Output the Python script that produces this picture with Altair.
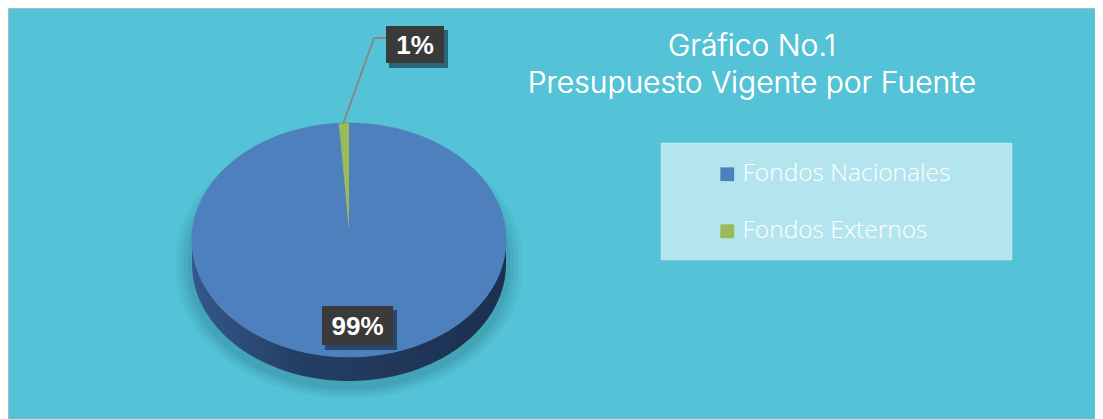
import altair as alt
import pandas as pd

# ---- data ----
categories = ["Fondos Nacionales", "Fondos Externos"]
values = [99, 1]
slice_colors = ["#4E80BE", "#9BBB59"]
title_lines = ["Gráfico No.1", "Presupuesto Vigente por Fuente"]

# ---- layout / style ----
W, H = 1087, 411
CX, CY, RX, RY, DEPTH = 341, 232, 157, 117, 24
APEX_DY = -13
N = 180
BG = "#54C3D7"
FONT = "Open Sans"
TITLE_FONT = "Inter"

df = pd.DataFrame({"category": categories, "value": values, "order": list(range(len(categories)))})

xs = alt.Scale(domain=[0, W], nice=False, zero=False)
ys = alt.Scale(domain=[0, H], nice=False, zero=False, reverse=True)


def ellipse_band(cx, cy, rx, ry, depth, full=False):
    src = alt.sequence(0, 181, 1, as_="i")
    a = "(datum.i / 180) * PI"
    return alt.Chart(src).transform_calculate(
        px=f"{cx} + {rx} * cos({a})",
        ytop=(f"{cy} - {ry} * sin({a})" if full else f"{cy} + {ry} * sin({a})"),
        ybot=f"{cy} + {ry} * sin({a}) + {depth}",
    )


# soft shadow under the pie
shadows = []
for i, op in enumerate([0.05, 0.05, 0.06, 0.07]):
    g = 4 * (4 - i)
    shadows.append(
        ellipse_band(CX, CY + DEPTH / 2 + 6, RX + g, RY + g * 0.7, DEPTH / 2, full=True)
        .mark_area(color="#0B3A4A", opacity=op)
        .encode(x=alt.X("px:Q", scale=xs, axis=None), y=alt.Y("ytop:Q", scale=ys, axis=None), y2="ybot:Q")
    )

# side of the pie
side = ellipse_band(CX, CY, RX, RY, DEPTH).mark_area(
    color=alt.Gradient(
        gradient="linear",
        stops=[
            alt.GradientStop(color="#33588A", offset=0),
            alt.GradientStop(color="#243E63", offset=0.35),
            alt.GradientStop(color="#1C3050", offset=1),
        ],
        x1=0, x2=1, y1=0, y2=0,
    )
).encode(x=alt.X("px:Q", scale=xs, axis=None), y=alt.Y("ytop:Q", scale=ys, axis=None), y2="ybot:Q")

# top of the pie: one polygon per slice, built from the values
slices = (
    alt.Chart(df)
    .transform_joinaggregate(total="sum(value)")
    .transform_window(cum="sum(value)", sort=[alt.SortField("order")], frame=[None, 0])
    .transform_calculate(t1="datum.cum / datum.total", t0="(datum.cum - datum.value) / datum.total")
    .transform_calculate(k=f"sequence(0, {N + 2})")
    .transform_flatten(["k"])
    .transform_calculate(frac=f"datum.t0 + (datum.t1 - datum.t0) * (datum.k - 1) / {N}")
    .transform_calculate(
        px=f"datum.k == 0 ? {CX} : {CX} + {RX} * sin(2 * PI * datum.frac)",
        py=f"datum.k == 0 ? {CY + APEX_DY} : {CY} - {RY} * cos(2 * PI * datum.frac)",
    )
    .mark_line(strokeWidth=0.6, interpolate="linear")
    .encode(
        x=alt.X("px:Q", scale=xs, axis=None),
        y=alt.Y("py:Q", scale=ys, axis=None),
        fill=alt.Fill(
            "category:N",
            scale=alt.Scale(domain=categories, range=slice_colors),
            sort=categories,
            legend=alt.Legend(
                title=None,
                orient="none",
                legendX=707,
                legendY=154,
                symbolType="square",
                symbolSize=190,
                symbolStrokeWidth=0,
                labelFont=FONT,
                labelFontSize=24.5,
                labelFontWeight=300,
                labelColor="white",
                labelOffset=3,
                labelLimit=0,
                rowPadding=32,
                padding=0,
            ),
        ),
        stroke=alt.Stroke("category:N", scale=alt.Scale(domain=categories, range=slice_colors), legend=None),
        order=alt.Order("k:Q"),
    )
)

# legend background box
legend_box = alt.Chart(df).mark_rect(fill="white", fillOpacity=0.34, stroke="white", strokeOpacity=0.15).encode(
    x=alt.value(653), x2=alt.value(1004), y=alt.value(135), y2=alt.value(252)
)

# two-line title as a single text
title = alt.Chart(df).mark_text(
    text=title_lines, font=TITLE_FONT, fontSize=30, fontWeight=300, color="white",
    align="center", baseline="alphabetic", lineHeight=37,
).encode(x=alt.value(744), y=alt.value(48))

# leader line for the small slice
lead1 = alt.Chart(df).mark_rule(color="#8A8585", strokeWidth=1.5).encode(
    x=alt.value(378), x2=alt.value(366), y=alt.value(30), y2=alt.value(30)
)
lead2 = alt.Chart(df).mark_rule(color="#8A8585", strokeWidth=1.5).encode(
    x=alt.value(366), x2=alt.value(335), y=alt.value(30), y2=alt.value(116)
)

# chart border (top and left edges)
border_top = alt.Chart(df).mark_rule(color="#BDBDBD", strokeWidth=1).encode(
    x=alt.value(0), x2=alt.value(W), y=alt.value(0), y2=alt.value(0)
)
border_left = alt.Chart(df).mark_rule(color="#BDBDBD", strokeWidth=1).encode(
    x=alt.value(0), x2=alt.value(0), y=alt.value(0), y2=alt.value(H)
)


def label_layers(cat, x0, x1, y0, y1):
    shadow = alt.Chart(df).mark_rect(fill="#0A2030", opacity=0.35).encode(
        x=alt.value(x0 + 3), x2=alt.value(x1 + 4), y=alt.value(y0 + 4), y2=alt.value(y1 + 5)
    )
    box = alt.Chart(df).mark_rect(fill="#3A3A3A").encode(
        x=alt.value(x0), x2=alt.value(x1), y=alt.value(y0), y2=alt.value(y1)
    )
    txt = (
        alt.Chart(df)
        .transform_filter(alt.datum.category == cat)
        .transform_calculate(lbl="format(datum.value, 'd') + '%'")
        .mark_text(font="Liberation Sans", fontSize=26, fontWeight="bold", color="white", align="center", baseline="middle")
        .encode(text="lbl:N", x=alt.value((x0 + x1) / 2), y=alt.value((y0 + y1) / 2 + 1))
    )
    return [shadow, box, txt]


labels = label_layers("Fondos Externos", 378, 436, 18, 55) + label_layers("Fondos Nacionales", 314, 385, 298, 337)

chart = (
    alt.layer(*shadows, side, slices, legend_box, title, lead1, lead2, border_top, border_left, *labels)
    .properties(width=W, height=H, padding=0, autosize="none", background=BG)
    .configure_view(strokeWidth=0)
)

chart.save("out.html", embed_options={"renderer": "svg", "actions": False})
